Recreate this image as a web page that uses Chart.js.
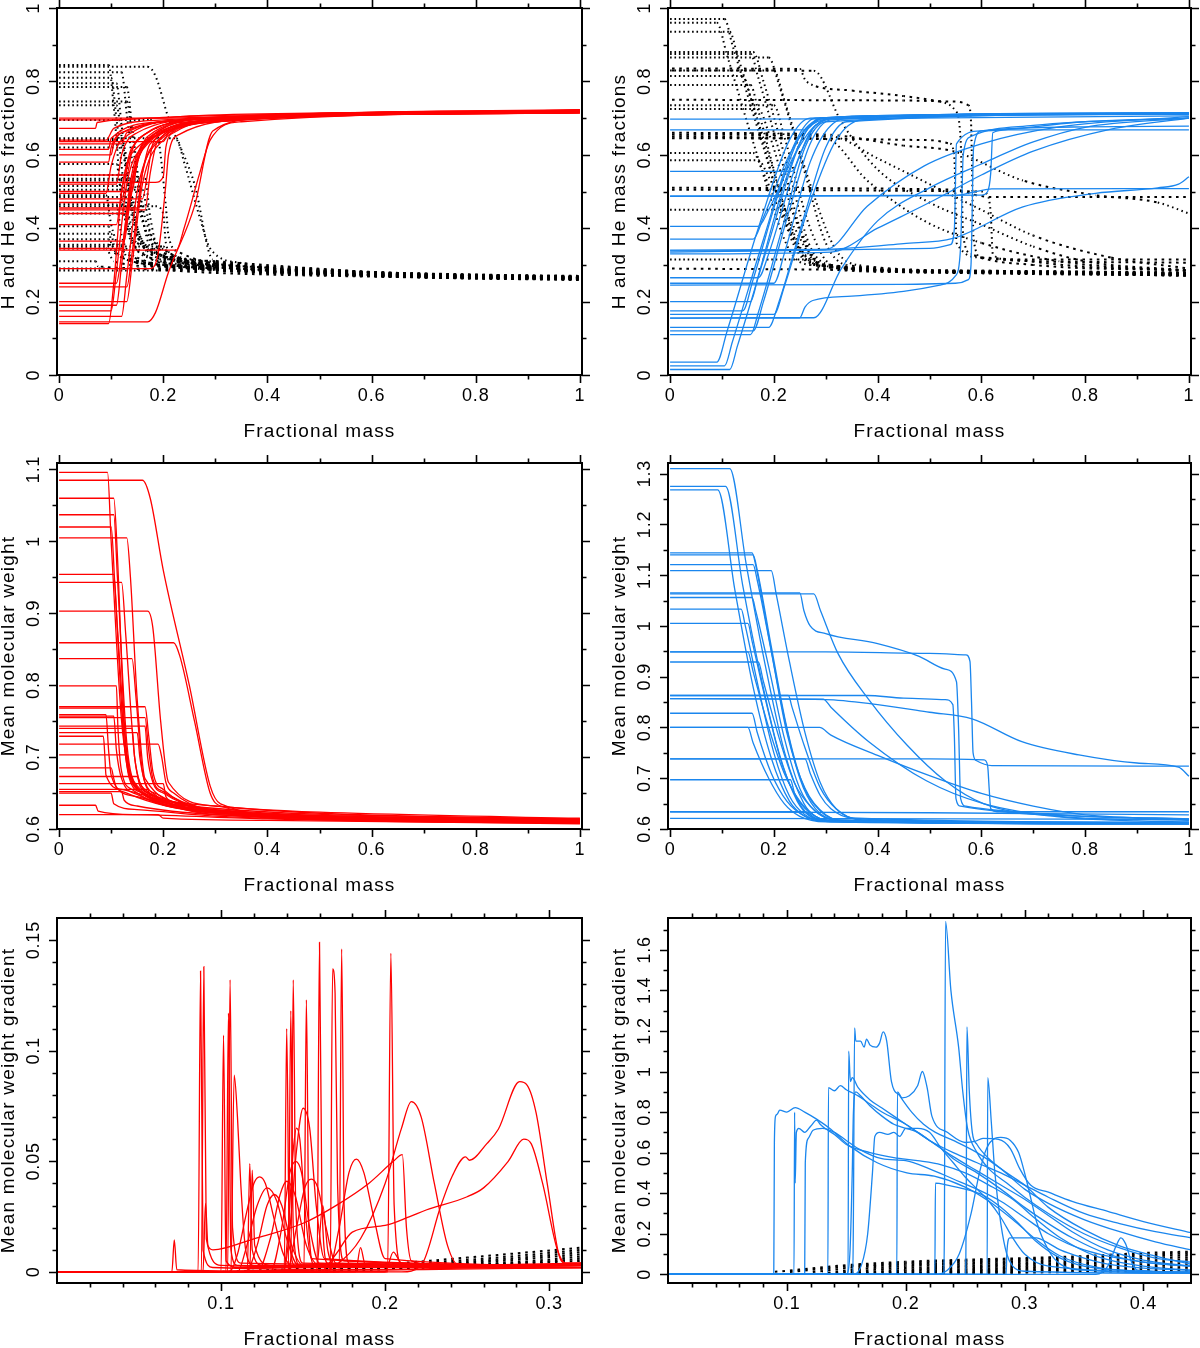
<!DOCTYPE html>
<html lang="en">
<head>
    <meta charset="UTF-8">
    <title>Chemical profiles</title>
    <script src="https://cdn.jsdelivr.net/npm/chart.js"></script>
    <style>
        html, body { margin: 0; padding: 0; background: #fff; }
        body { width: 1200px; height: 1348px; position: relative; overflow: hidden; }
        canvas { position: absolute; }
    </style>
</head>
<body>

    <canvas id="panelA" width="600" height="455" style="left:0;top:0"></canvas>
    <canvas id="panelB" width="600" height="455" style="left:600px;top:0"></canvas>
    <canvas id="panelC" width="600" height="455" style="left:0;top:455px"></canvas>
    <canvas id="panelD" width="600" height="455" style="left:600px;top:455px"></canvas>
    <canvas id="panelE" width="600" height="438" style="left:0;top:910px"></canvas>
    <canvas id="panelF" width="600" height="438" style="left:600px;top:910px"></canvas>

    <script>
        // ---- tick values / labels ----
        const xTicksFull = [0, 0.2, 0.4, 0.6, 0.8, 1];
        const xLabelsFull = ["0", "0.2", "0.4", "0.6", "0.8", "1"];
        const xMinorFull = [0.1, 0.3, 0.5, 0.7, 0.9];

        const xTicksInner = [0.1, 0.2, 0.3];
        const xLabelsInner = ["0.1", "0.2", "0.3"];
        const xMinorInner = [0.02, 0.04, 0.06, 0.08, 0.12, 0.14, 0.16, 0.18, 0.22, 0.24, 0.26, 0.28];

        const xTicksInnerWide = [0.1, 0.2, 0.3, 0.4];
        const xLabelsInnerWide = ["0.1", "0.2", "0.3", "0.4"];
        const xMinorInnerWide = [0.02, 0.04, 0.06, 0.08, 0.12, 0.14, 0.16, 0.18, 0.22, 0.24, 0.26, 0.28, 0.32, 0.34, 0.36, 0.38, 0.42];

        const yTicksFrac = [0, 0.2, 0.4, 0.6, 0.8, 1];
        const yLabelsFrac = ["0", "0.2", "0.4", "0.6", "0.8", "1"];
        const yMinorFrac = [0.1, 0.3, 0.5, 0.7, 0.9];

        const yTicksMuL = [0.6, 0.7, 0.8, 0.9, 1, 1.1];
        const yLabelsMuL = ["0.6", "0.7", "0.8", "0.9", "1", "1.1"];
        const yMinorMuL = [0.65, 0.75, 0.85, 0.95, 1.05];

        const yTicksMuR = [0.6, 0.7, 0.8, 0.9, 1, 1.1, 1.2, 1.3];
        const yLabelsMuR = ["0.6", "0.7", "0.8", "0.9", "1", "1.1", "1.2", "1.3"];
        const yMinorMuR = [0.65, 0.75, 0.85, 0.95, 1.05, 1.15, 1.25];

        const yTicksGrL = [0, 0.05, 0.1, 0.15];
        const yLabelsGrL = ["0", "0.05", "0.1", "0.15"];
        const yMinorGrL = [0.01, 0.02, 0.03, 0.04, 0.06, 0.07, 0.08, 0.09, 0.11, 0.12, 0.13, 0.14];

        const yTicksGrR = [0, 0.2, 0.4, 0.6, 0.8, 1, 1.2, 1.4, 1.6];
        const yLabelsGrR = ["0", "0.2", "0.4", "0.6", "0.8", "1", "1.2", "1.4", "1.6"];
        const yMinorGrR = [0.1, 0.3, 0.5, 0.7, 0.9, 1.1, 1.3, 1.5, 1.7];

        // ---- top left: H (red) and He (dotted) ----
        const hydLeft = [
            [[0,0.700],[0.19,0.700],[0.25,0.706],[0.5,0.714],[1,0.720]],
            [[0,0.695],[0.10,0.695],[0.2,0.702],[0.5,0.712],[1,0.716]],
            [[0,0.672],[0.07,0.672],[0.073,0.688],[0.2,0.70],[0.5,0.713],[1,0.718]],
            [[0,0.640],[0.09,0.640],[0.105,0.672],[0.2,0.695],[0.5,0.712],[1,0.717]],
            [[0,0.636],[0.20,0.636],[0.21,0.66],[0.3,0.695],[0.6,0.712],[1,0.716]],
            [[0,0.630],[0.12,0.630],[0.13,0.66],[0.25,0.695],[0.6,0.714],[1,0.722]],
            [[0,0.615],[0.095,0.615],[0.10,0.645],[0.2,0.69],[0.5,0.712],[1,0.719]],
            [[0,0.600],[0.10,0.600],[0.105,0.63],[0.12,0.66],[0.25,0.695],[1,0.72]],
            [[0,0.580],[0.095,0.580],[0.10,0.62],[0.13,0.665],[0.3,0.70],[1,0.716]],
            [[0,0.545],[0.13,0.545],[0.14,0.61],[0.17,0.66],[0.3,0.70],[1,0.721]],
            [[0,0.525],[0.185,0.525],[0.20,0.54],[0.205,0.62],[0.22,0.66],[0.35,0.70],[1,0.717]],
            [[0,0.520],[0.11,0.520],[0.12,0.60],[0.15,0.66],[0.3,0.70],[1,0.72]],
            [[0,0.500],[0.14,0.500],[0.15,0.58],[0.17,0.65],[0.3,0.70],[1,0.718]],
            [[0,0.495],[0.09,0.495],[0.10,0.57],[0.12,0.64],[0.25,0.695],[1,0.714]],
            [[0,0.480],[0.16,0.480],[0.17,0.55],[0.18,0.63],[0.22,0.67],[0.4,0.705],[1,0.722]],
            [[0,0.470],[0.12,0.470],[0.13,0.56],[0.15,0.64],[0.3,0.70],[1,0.716]],
            [[0,0.455],[0.15,0.455],[0.16,0.55],[0.175,0.63],[0.3,0.695],[1,0.719]],
            [[0,0.450],[0.165,0.450],[0.175,0.55],[0.19,0.64],[0.3,0.695],[1,0.715]],
            [[0,0.440],[0.13,0.440],[0.14,0.53],[0.16,0.63],[0.3,0.70],[1,0.72]],
            [[0,0.410],[0.11,0.410],[0.12,0.50],[0.14,0.62],[0.25,0.69],[1,0.717]],
            [[0,0.365],[0.125,0.365],[0.135,0.46],[0.155,0.60],[0.2,0.66],[0.4,0.705],[1,0.723]],
            [[0,0.345],[0.12,0.345],[0.13,0.44],[0.15,0.58],[0.2,0.66],[0.4,0.705],[1,0.718]],
            [[0,0.340],[0.225,0.340],[0.24,0.40],[0.27,0.55],[0.29,0.64],[0.35,0.69],[1,0.715]],
            [[0,0.290],[0.175,0.290],[0.19,0.33],[0.205,0.52],[0.21,0.60],[0.23,0.655],[0.4,0.70],[1,0.72]],
            [[0,0.250],[0.11,0.250],[0.12,0.33],[0.14,0.55],[0.17,0.64],[0.3,0.70],[1,0.716]],
            [[0,0.240],[0.13,0.240],[0.14,0.33],[0.16,0.55],[0.19,0.64],[0.3,0.695],[1,0.719]],
            [[0,0.200],[0.13,0.200],[0.14,0.30],[0.16,0.52],[0.2,0.64],[0.3,0.69],[1,0.721]],
            [[0,0.190],[0.11,0.190],[0.12,0.30],[0.14,0.53],[0.17,0.63],[0.3,0.695],[1,0.716]],
            [[0,0.175],[0.10,0.175],[0.11,0.28],[0.13,0.52],[0.16,0.62],[0.3,0.695],[1,0.714]],
            [[0,0.160],[0.12,0.160],[0.13,0.27],[0.15,0.50],[0.18,0.62],[0.3,0.69],[1,0.718]],
            [[0,0.145],[0.17,0.145],[0.185,0.17],[0.21,0.28],[0.26,0.46],[0.295,0.665],[0.4,0.70],[1,0.722]],
            [[0,0.140],[0.095,0.140],[0.105,0.25],[0.12,0.50],[0.15,0.62],[0.3,0.69],[1,0.715]]
        ];
        const heLeft = [
            [[0,0.285],[0.19,0.285],[0.3,0.278],[0.6,0.268],[1,0.262]],
            [[0,0.290],[0.10,0.290],[0.2,0.287],[0.35,0.282],[0.6,0.272],[1,0.266]],
            [[0,0.310],[0.07,0.310],[0.075,0.296],[0.2,0.29],[0.35,0.283],[0.6,0.27],[1,0.263]],
            [[0,0.345],[0.09,0.345],[0.105,0.31],[0.2,0.295],[0.35,0.284],[0.6,0.273],[1,0.265]],
            [[0,0.350],[0.20,0.350],[0.21,0.33],[0.3,0.305],[0.45,0.29],[0.7,0.276],[1,0.27]],
            [[0,0.355],[0.12,0.355],[0.13,0.32],[0.25,0.295],[0.45,0.278],[0.7,0.266],[1,0.26]],
            [[0,0.370],[0.095,0.370],[0.10,0.34],[0.2,0.30],[0.4,0.283],[0.7,0.268],[1,0.263]],
            [[0,0.385],[0.10,0.385],[0.105,0.355],[0.12,0.32],[0.25,0.292],[0.5,0.275],[1,0.262]],
            [[0,0.405],[0.095,0.405],[0.10,0.36],[0.13,0.32],[0.3,0.29],[0.6,0.275],[1,0.266]],
            [[0,0.440],[0.13,0.440],[0.14,0.37],[0.17,0.32],[0.3,0.288],[0.6,0.27],[1,0.261]],
            [[0,0.460],[0.185,0.460],[0.20,0.44],[0.205,0.36],[0.22,0.325],[0.35,0.295],[0.6,0.278],[1,0.268]],
            [[0,0.465],[0.11,0.465],[0.12,0.38],[0.15,0.32],[0.3,0.287],[0.6,0.271],[1,0.262]],
            [[0,0.485],[0.14,0.485],[0.15,0.40],[0.17,0.335],[0.3,0.292],[0.6,0.274],[1,0.264]],
            [[0,0.490],[0.09,0.490],[0.10,0.41],[0.12,0.34],[0.25,0.295],[0.6,0.276],[1,0.268]],
            [[0,0.505],[0.16,0.505],[0.17,0.43],[0.18,0.35],[0.22,0.315],[0.4,0.283],[0.7,0.266],[1,0.26]],
            [[0,0.515],[0.12,0.515],[0.13,0.42],[0.15,0.34],[0.3,0.29],[0.6,0.274],[1,0.266]],
            [[0,0.530],[0.15,0.530],[0.16,0.43],[0.175,0.35],[0.3,0.295],[0.6,0.272],[1,0.263]],
            [[0,0.535],[0.165,0.535],[0.175,0.43],[0.19,0.345],[0.3,0.30],[0.6,0.278],[1,0.267]],
            [[0,0.545],[0.13,0.545],[0.14,0.45],[0.16,0.35],[0.3,0.286],[0.6,0.27],[1,0.262]],
            [[0,0.575],[0.11,0.575],[0.12,0.48],[0.14,0.36],[0.25,0.30],[0.6,0.275],[1,0.265]],
            [[0,0.620],[0.125,0.620],[0.135,0.52],[0.155,0.38],[0.2,0.325],[0.4,0.285],[0.7,0.266],[1,0.259]],
            [[0,0.640],[0.12,0.640],[0.13,0.54],[0.15,0.40],[0.2,0.325],[0.4,0.287],[0.7,0.27],[1,0.263]],
            [[0,0.645],[0.225,0.645],[0.24,0.58],[0.27,0.43],[0.29,0.345],[0.35,0.305],[0.6,0.28],[1,0.267]],
            [[0,0.695],[0.175,0.695],[0.19,0.65],[0.205,0.46],[0.21,0.38],[0.23,0.335],[0.4,0.292],[0.7,0.27],[1,0.26]],
            [[0,0.735],[0.11,0.735],[0.12,0.65],[0.14,0.43],[0.17,0.34],[0.3,0.298],[0.6,0.276],[1,0.266]],
            [[0,0.745],[0.13,0.745],[0.14,0.65],[0.16,0.43],[0.19,0.345],[0.3,0.302],[0.6,0.274],[1,0.263]],
            [[0,0.785],[0.13,0.785],[0.14,0.68],[0.16,0.46],[0.2,0.345],[0.3,0.305],[0.6,0.272],[1,0.261]],
            [[0,0.795],[0.11,0.795],[0.12,0.68],[0.14,0.45],[0.17,0.35],[0.3,0.30],[0.6,0.278],[1,0.266]],
            [[0,0.810],[0.10,0.810],[0.11,0.70],[0.13,0.46],[0.16,0.36],[0.3,0.296],[0.6,0.28],[1,0.268]],
            [[0,0.825],[0.12,0.825],[0.13,0.71],[0.15,0.48],[0.18,0.365],[0.3,0.308],[0.6,0.279],[1,0.264]],
            [[0,0.840],[0.17,0.840],[0.185,0.815],[0.21,0.70],[0.26,0.52],[0.295,0.315],[0.4,0.295],[0.7,0.272],[1,0.262]],
            [[0,0.845],[0.095,0.845],[0.105,0.73],[0.12,0.48],[0.15,0.36],[0.3,0.31],[0.6,0.281],[1,0.267]]
        ];

        // ---- top right: H (blue) and He (dotted) ----
        const hydRight = [
            [[0,0.697],[0.3,0.698],[1,0.706]],
            [[0,0.668],[0.26,0.668],[0.29,0.70],[0.5,0.708],[1,0.711]],
            [[0,0.555],[0.235,0.555],[0.25,0.60],[0.28,0.68],[0.32,0.70],[1,0.713]],
            [[0,0.487],[0.60,0.490],[0.612,0.50],[0.618,0.55],[0.622,0.66],[0.65,0.668],[1,0.668]],
            [[0,0.487],[0.55,0.489],[0.59,0.50],[0.62,0.507],[1,0.508]],
            [[0,0.405],[0.17,0.405],[0.19,0.45],[0.24,0.60],[0.28,0.68],[0.35,0.705],[1,0.714]],
            [[0,0.370],[0.16,0.370],[0.18,0.43],[0.23,0.60],[0.27,0.68],[0.33,0.70],[1,0.712]],
            [[0,0.340],[0.30,0.342],[0.38,0.46],[0.49,0.57],[0.6,0.63],[0.75,0.676],[1,0.704]],
            [[0,0.335],[0.50,0.345],[0.54,0.355],[0.548,0.40],[0.552,0.63],[0.6,0.665],[0.8,0.69],[1,0.70]],
            [[0,0.330],[0.31,0.335],[0.4,0.40],[0.5,0.47],[0.6,0.545],[0.7,0.61],[0.85,0.67],[1,0.70]],
            [[0,0.338],[0.3,0.342],[0.45,0.358],[0.545,0.372],[0.68,0.458],[0.82,0.495],[0.94,0.51],[0.98,0.52],[1,0.54]],
            [[0,0.265],[0.17,0.265],[0.19,0.33],[0.24,0.56],[0.28,0.68],[0.33,0.70],[1,0.713]],
            [[0,0.250],[0.20,0.250],[0.22,0.33],[0.27,0.58],[0.31,0.68],[0.36,0.703],[1,0.712]],
            [[0,0.245],[0.45,0.247],[0.55,0.25],[0.575,0.26],[0.58,0.30],[0.585,0.62],[0.6,0.665],[0.8,0.676],[1,0.678]],
            [[0,0.200],[0.155,0.200],[0.17,0.27],[0.22,0.52],[0.26,0.66],[0.3,0.70],[1,0.714]],
            [[0,0.175],[0.14,0.175],[0.16,0.26],[0.21,0.50],[0.25,0.65],[0.3,0.70],[1,0.71]],
            [[0,0.165],[0.20,0.165],[0.22,0.24],[0.27,0.47],[0.32,0.64],[0.37,0.695],[1,0.713]],
            [[0,0.155],[0.25,0.156],[0.26,0.185],[0.275,0.203],[0.35,0.215],[0.45,0.228],[0.52,0.245],[0.55,0.27],[0.56,0.35],[0.565,0.60],[0.58,0.65],[0.7,0.68],[1,0.70]],
            [[0,0.155],[0.277,0.156],[0.33,0.29],[0.4,0.42],[0.5,0.51],[0.6,0.575],[0.7,0.635],[0.8,0.675],[1,0.70]],
            [[0,0.130],[0.19,0.130],[0.21,0.20],[0.26,0.44],[0.3,0.62],[0.34,0.69],[1,0.712]],
            [[0,0.120],[0.16,0.120],[0.18,0.20],[0.23,0.45],[0.27,0.63],[0.31,0.695],[1,0.713]],
            [[0,0.110],[0.155,0.110],[0.17,0.17],[0.22,0.42],[0.26,0.62],[0.3,0.69],[1,0.711]],
            [[0,0.035],[0.09,0.035],[0.11,0.12],[0.17,0.40],[0.23,0.64],[0.27,0.70],[1,0.712]],
            [[0,0.025],[0.105,0.025],[0.12,0.09],[0.18,0.37],[0.24,0.63],[0.28,0.70],[1,0.713]],
            [[0,0.015],[0.115,0.015],[0.13,0.08],[0.19,0.36],[0.25,0.63],[0.29,0.70],[1,0.714]]
        ];
        const heRight = [
            [[0,0.290],[0.3,0.287],[0.6,0.28],[1,0.276]],
            [[0,0.315],[0.26,0.315],[0.29,0.29],[0.5,0.28],[1,0.272]],
            [[0,0.450],[0.23,0.450],[0.25,0.40],[0.28,0.315],[0.33,0.292],[0.6,0.28],[1,0.275]],
            [[0,0.505],[0.60,0.50],[0.612,0.49],[0.618,0.44],[0.622,0.33],[0.65,0.315],[1,0.315]],
            [[0,0.510],[0.55,0.505],[0.59,0.49],[0.62,0.485],[1,0.485]],
            [[0,0.585],[0.17,0.585],[0.19,0.54],[0.24,0.40],[0.28,0.31],[0.35,0.29],[0.6,0.279],[1,0.271]],
            [[0,0.605],[0.16,0.605],[0.18,0.55],[0.23,0.39],[0.27,0.315],[0.33,0.295],[0.6,0.282],[1,0.278]],
            [[0,0.645],[0.30,0.643],[0.38,0.53],[0.49,0.42],[0.6,0.36],[0.75,0.31],[1,0.283]],
            [[0,0.650],[0.50,0.64],[0.54,0.63],[0.548,0.59],[0.552,0.36],[0.6,0.32],[0.8,0.295],[1,0.285]],
            [[0,0.655],[0.31,0.65],[0.4,0.59],[0.5,0.52],[0.6,0.45],[0.7,0.38],[0.85,0.32],[1,0.29]],
            [[0,0.660],[0.3,0.655],[0.45,0.625],[0.545,0.61],[0.68,0.53],[0.82,0.49],[0.94,0.47],[1,0.44]],
            [[0,0.725],[0.17,0.725],[0.19,0.66],[0.24,0.43],[0.28,0.31],[0.33,0.29],[0.6,0.277],[1,0.272]],
            [[0,0.735],[0.20,0.735],[0.22,0.65],[0.27,0.40],[0.31,0.30],[0.36,0.288],[0.6,0.28],[1,0.274]],
            [[0,0.750],[0.45,0.748],[0.55,0.745],[0.575,0.735],[0.58,0.69],[0.585,0.37],[0.6,0.32],[0.8,0.308],[1,0.306]],
            [[0,0.790],[0.155,0.790],[0.17,0.72],[0.22,0.46],[0.26,0.325],[0.3,0.297],[0.6,0.281],[1,0.27]],
            [[0,0.815],[0.14,0.815],[0.16,0.73],[0.21,0.48],[0.25,0.335],[0.3,0.295],[0.6,0.283],[1,0.279]],
            [[0,0.830],[0.20,0.830],[0.22,0.75],[0.27,0.52],[0.32,0.34],[0.37,0.298],[0.6,0.284],[1,0.277]],
            [[0,0.835],[0.25,0.834],[0.26,0.805],[0.275,0.79],[0.35,0.775],[0.45,0.76],[0.52,0.745],[0.55,0.72],[0.56,0.64],[0.565,0.38],[0.58,0.33],[0.7,0.30],[1,0.285]],
            [[0,0.830],[0.277,0.829],[0.33,0.69],[0.4,0.56],[0.5,0.47],[0.6,0.41],[0.7,0.35],[0.8,0.31],[1,0.285]],
            [[0,0.865],[0.19,0.865],[0.21,0.79],[0.26,0.55],[0.3,0.36],[0.34,0.30],[0.6,0.283],[1,0.273]],
            [[0,0.880],[0.16,0.880],[0.18,0.80],[0.23,0.55],[0.27,0.35],[0.31,0.30],[0.6,0.28],[1,0.275]],
            [[0,0.875],[0.155,0.875],[0.17,0.81],[0.22,0.56],[0.26,0.36],[0.3,0.30],[0.6,0.284],[1,0.279]],
            [[0,0.960],[0.09,0.960],[0.11,0.87],[0.17,0.59],[0.23,0.34],[0.27,0.30],[0.6,0.28],[1,0.272]],
            [[0,0.970],[0.105,0.970],[0.12,0.90],[0.18,0.62],[0.24,0.35],[0.28,0.302],[0.6,0.282],[1,0.276]],
            [[0,0.935],[0.115,0.935],[0.13,0.87],[0.19,0.60],[0.25,0.34],[0.29,0.298],[0.6,0.279],[1,0.273]]
        ];

        // ---- middle left: mean molecular weight (red) ----
        const muLeft = [
            [[0,1.096],[0.093,1.096],[0.10,1.0],[0.12,0.75],[0.14,0.67],[0.2,0.64],[0.4,0.618],[1,0.612]],
            [[0,1.085],[0.16,1.085],[0.175,1.06],[0.2,0.96],[0.25,0.80],[0.29,0.66],[0.31,0.635],[0.5,0.615],[1,0.61]],
            [[0,1.060],[0.105,1.060],[0.112,0.98],[0.125,0.75],[0.14,0.67],[0.2,0.64],[0.4,0.617],[1,0.611]],
            [[0,1.037],[0.105,1.037],[0.112,0.95],[0.13,0.72],[0.15,0.66],[0.25,0.632],[1,0.613]],
            [[0,1.020],[0.10,1.020],[0.107,0.94],[0.125,0.72],[0.145,0.66],[0.25,0.63],[1,0.609]],
            [[0,1.005],[0.13,1.005],[0.137,0.95],[0.15,0.78],[0.165,0.67],[0.25,0.635],[1,0.614]],
            [[0,0.954],[0.105,0.954],[0.112,0.88],[0.13,0.70],[0.15,0.655],[0.3,0.625],[1,0.61]],
            [[0,0.943],[0.12,0.943],[0.128,0.87],[0.145,0.70],[0.165,0.655],[0.3,0.627],[1,0.612]],
            [[0,0.903],[0.17,0.903],[0.18,0.88],[0.195,0.75],[0.21,0.665],[0.3,0.632],[1,0.612]],
            [[0,0.859],[0.22,0.859],[0.232,0.84],[0.26,0.75],[0.29,0.65],[0.31,0.632],[0.5,0.616],[1,0.61]],
            [[0,0.837],[0.14,0.837],[0.148,0.78],[0.16,0.68],[0.18,0.65],[0.3,0.625],[1,0.608]],
            [[0,0.799],[0.11,0.799],[0.113,0.74],[0.12,0.68],[0.14,0.655],[0.3,0.625],[1,0.612]],
            [[0,0.770],[0.165,0.770],[0.172,0.73],[0.18,0.68],[0.2,0.655],[0.35,0.622],[1,0.614]],
            [[0,0.768],[0.12,0.768],[0.125,0.72],[0.135,0.67],[0.16,0.65],[0.3,0.624],[1,0.61]],
            [[0,0.759],[0.09,0.759],[0.095,0.71],[0.10,0.675],[0.13,0.65],[0.3,0.622],[1,0.609]],
            [[0,0.757],[0.105,0.757],[0.11,0.71],[0.12,0.67],[0.15,0.648],[0.3,0.624],[1,0.611]],
            [[0,0.755],[0.165,0.755],[0.172,0.71],[0.18,0.67],[0.2,0.652],[0.35,0.623],[1,0.613]],
            [[0,0.743],[0.165,0.743],[0.17,0.70],[0.18,0.665],[0.2,0.65],[0.35,0.62],[1,0.61]],
            [[0,0.740],[0.14,0.740],[0.145,0.70],[0.155,0.665],[0.18,0.648],[0.3,0.623],[1,0.612]],
            [[0,0.734],[0.15,0.734],[0.155,0.70],[0.165,0.665],[0.19,0.648],[0.3,0.622],[1,0.611]],
            [[0,0.729],[0.085,0.729],[0.088,0.70],[0.09,0.675],[0.12,0.655],[0.3,0.62],[1,0.608]],
            [[0,0.718],[0.19,0.718],[0.197,0.70],[0.205,0.665],[0.22,0.65],[0.35,0.622],[1,0.615]],
            [[0,0.703],[0.13,0.703],[0.135,0.68],[0.145,0.66],[0.17,0.648],[0.3,0.622],[1,0.61]],
            [[0,0.685],[0.10,0.685],[0.105,0.67],[0.11,0.658],[0.15,0.645],[0.3,0.62],[1,0.612]],
            [[0,0.673],[0.15,0.673],[0.155,0.66],[0.165,0.652],[0.2,0.642],[0.35,0.62],[1,0.609]],
            [[0,0.663],[0.20,0.663],[0.205,0.645],[0.22,0.638],[0.35,0.62],[1,0.613]],
            [[0,0.655],[0.17,0.655],[0.175,0.645],[0.2,0.637],[0.35,0.62],[1,0.611]],
            [[0,0.652],[0.12,0.652],[0.125,0.64],[0.15,0.632],[0.3,0.62],[1,0.61]],
            [[0,0.650],[0.10,0.650],[0.105,0.635],[0.15,0.627],[0.3,0.618],[1,0.608]],
            [[0,0.633],[0.07,0.633],[0.075,0.625],[0.15,0.62],[0.4,0.614],[1,0.609]],
            [[0,0.620],[0.19,0.620],[0.2,0.615],[0.4,0.612],[1,0.607]]
        ];

        // ---- middle right: mean molecular weight (blue) ----
        const muRight = [
            [[0,1.310],[0.115,1.310],[0.147,1.12],[0.184,0.92],[0.221,0.75],[0.258,0.65],[0.28,0.625],[0.32,0.615],[1,0.612]],
            [[0,1.275],[0.107,1.275],[0.14,1.08],[0.175,0.90],[0.21,0.75],[0.245,0.655],[0.27,0.625],[0.32,0.614],[1,0.611]],
            [[0,1.268],[0.092,1.268],[0.125,1.07],[0.16,0.88],[0.195,0.74],[0.23,0.655],[0.26,0.625],[0.3,0.615],[1,0.613]],
            [[0,1.144],[0.158,1.144],[0.165,1.12],[0.19,0.98],[0.22,0.82],[0.25,0.70],[0.28,0.64],[0.32,0.618],[1,0.612]],
            [[0,1.140],[0.16,1.140],[0.168,1.11],[0.195,0.96],[0.225,0.80],[0.255,0.69],[0.29,0.635],[0.33,0.617],[1,0.611]],
            [[0,1.121],[0.16,1.121],[0.168,1.09],[0.195,0.95],[0.225,0.79],[0.26,0.68],[0.3,0.628],[0.35,0.615],[1,0.61]],
            [[0,1.109],[0.195,1.109],[0.205,1.06],[0.23,0.93],[0.26,0.79],[0.29,0.69],[0.32,0.64],[0.37,0.618],[1,0.612]],
            [[0,1.065],[0.25,1.065],[0.258,1.03],[0.27,1.0],[0.3,0.985],[0.4,0.965],[0.48,0.94],[0.53,0.915],[0.552,0.89],[0.556,0.80],[0.56,0.66],[0.57,0.645],[0.65,0.635],[0.8,0.625],[1,0.618]],
            [[0,1.063],[0.277,1.063],[0.29,1.03],[0.324,0.945],[0.383,0.855],[0.457,0.765],[0.53,0.695],[0.604,0.65],[0.75,0.624],[0.9,0.616],[1,0.614]],
            [[0,1.056],[0.158,1.056],[0.165,1.03],[0.19,0.92],[0.22,0.78],[0.25,0.68],[0.28,0.635],[0.33,0.617],[1,0.611]],
            [[0,1.033],[0.137,1.033],[0.145,1.0],[0.17,0.88],[0.2,0.75],[0.23,0.665],[0.26,0.628],[0.3,0.616],[1,0.612]],
            [[0,1.005],[0.15,1.005],[0.158,0.97],[0.185,0.85],[0.215,0.73],[0.245,0.66],[0.28,0.625],[0.32,0.615],[1,0.61]],
            [[0,0.949],[0.15,0.949],[0.16,0.91],[0.19,0.80],[0.22,0.71],[0.25,0.655],[0.28,0.625],[0.32,0.615],[1,0.611]],
            [[0,0.949],[0.3,0.949],[0.5,0.946],[0.57,0.943],[0.578,0.93],[0.581,0.85],[0.584,0.75],[0.59,0.735],[0.62,0.725],[1,0.724]],
            [[0,0.929],[0.17,0.929],[0.18,0.89],[0.21,0.78],[0.24,0.69],[0.27,0.645],[0.3,0.622],[0.35,0.614],[1,0.611]],
            [[0,0.863],[0.228,0.863],[0.235,0.84],[0.26,0.76],[0.29,0.68],[0.32,0.64],[0.36,0.62],[1,0.612]],
            [[0,0.863],[0.38,0.863],[0.45,0.858],[0.53,0.855],[0.545,0.845],[0.548,0.78],[0.551,0.66],[0.56,0.645],[0.65,0.633],[0.8,0.625],[1,0.62]],
            [[0,0.857],[0.3,0.855],[0.4,0.845],[0.5,0.83],[0.582,0.817],[0.678,0.772],[0.788,0.746],[0.9,0.73],[0.98,0.722],[1,0.704]],
            [[0,0.857],[0.295,0.856],[0.31,0.84],[0.383,0.772],[0.494,0.695],[0.604,0.65],[0.75,0.625],[1,0.617]],
            [[0,0.828],[0.158,0.828],[0.168,0.79],[0.195,0.71],[0.225,0.655],[0.26,0.625],[0.3,0.615],[1,0.61]],
            [[0,0.800],[0.15,0.800],[0.16,0.77],[0.19,0.70],[0.22,0.65],[0.25,0.625],[0.3,0.614],[1,0.61]],
            [[0,0.800],[0.288,0.800],[0.31,0.785],[0.4,0.745],[0.5,0.705],[0.6,0.67],[0.7,0.645],[0.8,0.628],[1,0.62]],
            [[0,0.738],[0.26,0.738],[0.27,0.71],[0.29,0.665],[0.31,0.64],[0.35,0.622],[1,0.613]],
            [[0,0.738],[0.3,0.738],[0.5,0.738],[0.605,0.736],[0.612,0.725],[0.615,0.68],[0.618,0.64],[0.63,0.634],[1,0.634]],
            [[0,0.697],[0.232,0.697],[0.24,0.67],[0.26,0.635],[0.29,0.618],[1,0.611]],
            [[0,0.634],[0.26,0.634],[0.28,0.622],[0.35,0.615],[1,0.61]],
            [[0,0.634],[0.5,0.632],[1,0.628]],
            [[0,0.621],[1,0.619]]
        ];

        // ---- bottom left: mean molecular weight gradient (red, dotted black) ----
        const gradLeft = [
            [[0,0],[0.070,0],[0.0715,0.0145],[0.073,0.001],[0.1,0.0005],[0.2,0.001],[0.32,0.003]],
            [[0,0],[0.086,0],[0.0875,0.136],[0.089,0.01],[0.095,0.002],[0.2,0.001],[0.32,0.002]],
            [[0,0],[0.088,0],[0.0895,0.138],[0.091,0.015],[0.1,0.003],[0.2,0.002],[0.32,0.003]],
            [[0,0],[0.089,0],[0.0905,0.031],[0.092,0.012],[0.095,0.01],[0.12,0.015],[0.15,0.022],[0.17,0.03],[0.19,0.04],[0.205,0.05],[0.2105,0.053],[0.213,0.02],[0.216,0.005],[0.25,0.002],[0.32,0.003]],
            [[0,0],[0.16,0],[0.17,0.003],[0.185,0.015],[0.2,0.04],[0.21,0.065],[0.216,0.077],[0.222,0.07],[0.23,0.04],[0.238,0.012],[0.245,0.003],[0.32,0.004]],
            [[0,0],[0.1,0],[0.1015,0.107],[0.103,0.005],[0.11,0.002],[0.32,0.003]],
            [[0,0],[0.103,0],[0.1045,0.117],[0.106,0.01],[0.11,0.003],[0.32,0.002]],
            [[0,0],[0.104,0],[0.1055,0.132],[0.107,0.02],[0.112,0.004],[0.32,0.003]],
            [[0,0],[0.106,0],[0.108,0.089],[0.11,0.07],[0.112,0.04],[0.115,0.01],[0.12,0.003],[0.32,0.003]],
            [[0,0],[0.116,0],[0.1175,0.049],[0.119,0.01],[0.125,0.003],[0.32,0.002]],
            [[0,0],[0.1175,0],[0.119,0.046],[0.1205,0.012],[0.13,0.003],[0.32,0.003]],
            [[0,0],[0.105,0],[0.11,0.008],[0.115,0.025],[0.12,0.04],[0.1235,0.043],[0.127,0.04],[0.132,0.025],[0.138,0.008],[0.145,0.002],[0.32,0.003]],
            [[0,0],[0.11,0],[0.115,0.01],[0.122,0.03],[0.128,0.038],[0.134,0.032],[0.14,0.015],[0.147,0.003],[0.32,0.003]],
            [[0,0],[0.115,0],[0.122,0.012],[0.128,0.03],[0.1325,0.035],[0.137,0.03],[0.143,0.012],[0.15,0.003],[0.32,0.002]],
            [[0,0],[0.122,0],[0.13,0.015],[0.136,0.035],[0.14,0.041],[0.145,0.035],[0.152,0.012],[0.16,0.003],[0.32,0.003]],
            [[0,0],[0.1385,0],[0.14,0.110],[0.1415,0.02],[0.145,0.003],[0.32,0.003]],
            [[0,0],[0.141,0],[0.1425,0.118],[0.144,0.02],[0.148,0.003],[0.32,0.003]],
            [[0,0],[0.1425,0],[0.144,0.132],[0.1455,0.03],[0.15,0.004],[0.32,0.003]],
            [[0,0],[0.138,0],[0.141,0.02],[0.144,0.055],[0.146,0.065],[0.148,0.06],[0.151,0.03],[0.155,0.006],[0.32,0.003]],
            [[0,0],[0.13,0],[0.137,0.02],[0.142,0.045],[0.1455,0.05],[0.149,0.045],[0.154,0.02],[0.16,0.004],[0.32,0.003]],
            [[0,0],[0.138,0],[0.142,0.02],[0.146,0.055],[0.15,0.074],[0.154,0.065],[0.158,0.03],[0.163,0.006],[0.32,0.003]],
            [[0,0],[0.1505,0],[0.152,0.123],[0.1535,0.02],[0.157,0.003],[0.32,0.003]],
            [[0,0],[0.14,0],[0.146,0.02],[0.151,0.038],[0.155,0.042],[0.159,0.038],[0.164,0.02],[0.17,0.004],[0.32,0.003]],
            [[0,0],[0.1585,0],[0.16,0.149],[0.1615,0.03],[0.165,0.004],[0.32,0.003]],
            [[0,0],[0.158,0],[0.162,0.03],[0.165,0.01],[0.17,0.003],[0.32,0.003]],
            [[0,0],[0.1665,0],[0.168,0.137],[0.1695,0.126],[0.171,0.04],[0.175,0.005],[0.32,0.003]],
            [[0,0],[0.172,0],[0.1735,0.146],[0.175,0.03],[0.178,0.004],[0.32,0.003]],
            [[0,0],[0.165,0],[0.172,0.02],[0.178,0.045],[0.1825,0.051],[0.187,0.045],[0.193,0.025],[0.2,0.006],[0.32,0.003]],
            [[0,0],[0.182,0],[0.185,0.011],[0.188,0.003],[0.32,0.003]],
            [[0,0],[0.2015,0],[0.2035,0.144],[0.2055,0.03],[0.21,0.004],[0.32,0.003]],
            [[0,0],[0.2,0],[0.205,0.009],[0.21,0.004],[0.32,0.003]],
            [[0,0],[0.21,0],[0.222,0.003],[0.234,0.03],[0.241,0.0435],[0.249,0.052],[0.2515,0.0505],[0.262,0.058],[0.269,0.0645],[0.282,0.086],[0.2865,0.0845],[0.292,0.072],[0.299,0.039],[0.306,0.0075],[0.31,0.004],[0.32,0.004]],
            [[0,0],[0.16,0],[0.17,0.008],[0.18,0.018],[0.2,0.021],[0.215,0.025],[0.225,0.028],[0.25,0.034],[0.26,0.038],[0.275,0.05],[0.2845,0.06],[0.289,0.058],[0.296,0.04],[0.305,0.01],[0.31,0.004],[0.32,0.004]]
        ];
        const gradLeftHe = [
            [[0.10,0],[0.15,0.0015],[0.2,0.0035],[0.25,0.0065],[0.32,0.011]],
            [[0.11,0],[0.16,0.0015],[0.21,0.0035],[0.26,0.006],[0.32,0.010]],
            [[0.12,0],[0.17,0.0015],[0.22,0.0033],[0.27,0.0057],[0.32,0.009]],
            [[0.13,0],[0.18,0.0015],[0.23,0.0032],[0.28,0.0055],[0.32,0.008]],
            [[0.14,0],[0.19,0.0015],[0.24,0.003],[0.29,0.005],[0.32,0.007]],
            [[0.15,0],[0.20,0.0015],[0.25,0.003],[0.30,0.0048],[0.32,0.006]],
            [[0.16,0],[0.21,0.0015],[0.26,0.003],[0.32,0.005]]
        ];

        // ---- bottom right: mean molecular weight gradient (blue, dotted black) ----
        const gradRight = [
            [[0,0],[0.089,0],[0.0895,0.65],[0.0905,0.78],[0.092,0.79],[0.094,0.81],[0.1,0.80],[0.107,0.822],[0.115,0.80],[0.125,0.765],[0.137,0.715],[0.153,0.632],[0.176,0.55],[0.201,0.50],[0.224,0.484],[0.25,0.43],[0.27,0.36],[0.29,0.27],[0.31,0.17],[0.33,0.09],[0.36,0.035],[0.4,0.015],[0.44,0.01]],
            [[0,0],[0.106,0],[0.1065,0.80],[0.107,0.45],[0.108,0.70],[0.11,0.72],[0.115,0.70],[0.12,0.73],[0.125,0.76],[0.128,0.74],[0.132,0.72],[0.14,0.69],[0.15,0.64],[0.17,0.60],[0.19,0.575],[0.21,0.56],[0.23,0.54],[0.25,0.50],[0.27,0.44],[0.29,0.37],[0.31,0.27],[0.33,0.18],[0.36,0.09],[0.4,0.04],[0.44,0.02]],
            [[0,0],[0.115,0],[0.1155,0.55],[0.118,0.67],[0.122,0.71],[0.13,0.72],[0.14,0.70],[0.15,0.66],[0.16,0.62],[0.18,0.57],[0.2,0.56],[0.22,0.52],[0.24,0.47],[0.26,0.42],[0.28,0.36],[0.3,0.28],[0.32,0.20],[0.35,0.12],[0.4,0.06],[0.44,0.04]],
            [[0,0],[0.1345,0],[0.135,0.92],[0.14,0.905],[0.145,0.93],[0.15,0.91],[0.155,0.895],[0.16,0.88],[0.17,0.84],[0.18,0.80],[0.2,0.74],[0.22,0.66],[0.24,0.58],[0.26,0.51],[0.28,0.44],[0.3,0.37],[0.32,0.29],[0.34,0.21],[0.37,0.12],[0.4,0.07],[0.44,0.04]],
            [[0,0],[0.1515,0],[0.152,1.10],[0.1535,0.95],[0.155,0.97],[0.16,0.92],[0.17,0.86],[0.18,0.82],[0.2,0.74],[0.22,0.66],[0.24,0.60],[0.26,0.55],[0.28,0.50],[0.3,0.44],[0.32,0.38],[0.35,0.30],[0.38,0.25],[0.41,0.21],[0.44,0.18]],
            [[0,0],[0.1555,0],[0.156,0.3],[0.157,1.215],[0.158,1.15],[0.162,1.15],[0.165,1.12],[0.167,1.16],[0.17,1.13],[0.175,1.12],[0.178,1.14],[0.181,1.195],[0.184,1.15],[0.188,0.95],[0.195,0.88],[0.205,0.80],[0.215,0.74],[0.225,0.70],[0.24,0.66],[0.26,0.60],[0.28,0.52],[0.3,0.42],[0.32,0.35],[0.35,0.27],[0.38,0.21],[0.41,0.16],[0.44,0.12]],
            [[0,0],[0.1925,0],[0.193,0.90],[0.197,0.87],[0.203,0.88],[0.21,0.93],[0.214,1.0],[0.218,0.92],[0.222,0.78],[0.235,0.70],[0.25,0.65],[0.258,0.655],[0.265,0.67],[0.278,0.665],[0.288,0.62],[0.296,0.52],[0.305,0.44],[0.32,0.405],[0.34,0.36],[0.37,0.31],[0.4,0.26],[0.44,0.205]],
            [[0,0],[0.232,0],[0.2325,0.2],[0.2335,1.74],[0.238,1.4],[0.2445,1.12],[0.248,0.9],[0.252,0.72],[0.26,0.60],[0.27,0.52],[0.285,0.45],[0.3,0.38],[0.32,0.30],[0.35,0.20],[0.38,0.13],[0.41,0.08],[0.44,0.06]],
            [[0,0],[0.2505,0],[0.251,0.5],[0.2515,1.22],[0.2535,0.9],[0.256,0.70],[0.26,0.64],[0.27,0.57],[0.285,0.50],[0.3,0.44],[0.32,0.33],[0.35,0.22],[0.38,0.14],[0.41,0.09],[0.44,0.05]],
            [[0,0],[0.2685,0],[0.269,0.97],[0.272,0.75],[0.275,0.5],[0.28,0.25],[0.285,0.1],[0.29,0.04],[0.3,0.015],[0.44,0.005]],
            [[0,0],[0.2245,0],[0.225,0.45],[0.235,0.44],[0.25,0.42],[0.265,0.39],[0.28,0.33],[0.295,0.25],[0.31,0.16],[0.33,0.08],[0.36,0.03],[0.44,0.01]],
            [[0,0],[0.155,0],[0.163,0.05],[0.168,0.2],[0.172,0.5],[0.174,0.68],[0.178,0.70],[0.185,0.69],[0.19,0.70],[0.195,0.68],[0.2,0.72],[0.21,0.72],[0.22,0.70],[0.23,0.62],[0.24,0.55],[0.25,0.48],[0.26,0.42],[0.27,0.36],[0.28,0.28],[0.29,0.18],[0.3,0.10],[0.32,0.04],[0.44,0.01]],
            [[0,0],[0.15,0],[0.153,0.1],[0.155,0.5],[0.156,0.8],[0.158,0.9],[0.162,0.88],[0.17,0.83],[0.18,0.78],[0.19,0.74],[0.2,0.72],[0.21,0.70],[0.22,0.66],[0.23,0.62],[0.24,0.57],[0.26,0.50],[0.28,0.42],[0.3,0.33],[0.32,0.25],[0.34,0.18],[0.37,0.10],[0.4,0.06],[0.44,0.04]],
            [[0,0],[0.225,0],[0.235,0.02],[0.245,0.1],[0.255,0.3],[0.262,0.5],[0.268,0.62],[0.275,0.67],[0.28,0.675],[0.288,0.66],[0.295,0.60],[0.3,0.50],[0.305,0.38],[0.31,0.26],[0.32,0.12],[0.33,0.05],[0.35,0.02],[0.44,0.005]],
            [[0,0],[0.2845,0],[0.285,0.1],[0.2875,0.18],[0.3,0.18],[0.31,0.18],[0.318,0.16],[0.33,0.12],[0.35,0.08],[0.37,0.05],[0.4,0.03],[0.44,0.02]],
            [[0,0],[0.36,0],[0.37,0.04],[0.377,0.14],[0.381,0.18],[0.385,0.15],[0.39,0.06],[0.395,0.02],[0.44,0.01]]
        ];
        const gradRightHe = [
            [[0.09,0.012],[0.15,0.045],[0.2,0.062],[0.25,0.072],[0.3,0.08],[0.35,0.09],[0.4,0.105],[0.44,0.112]],
            [[0.10,0.01],[0.15,0.038],[0.2,0.055],[0.25,0.066],[0.3,0.074],[0.35,0.083],[0.4,0.097],[0.44,0.104]],
            [[0.12,0.01],[0.16,0.035],[0.2,0.048],[0.25,0.058],[0.3,0.066],[0.35,0.075],[0.4,0.088],[0.44,0.095]],
            [[0.13,0.005],[0.17,0.03],[0.2,0.04],[0.25,0.05],[0.3,0.058],[0.35,0.067],[0.4,0.078],[0.44,0.085]],
            [[0.14,0.005],[0.18,0.025],[0.22,0.035],[0.26,0.043],[0.3,0.05],[0.35,0.058],[0.4,0.068],[0.44,0.075]],
            [[0.15,0.005],[0.2,0.022],[0.25,0.033],[0.3,0.042],[0.35,0.05],[0.4,0.058],[0.44,0.065]],
            [[0.16,0.003],[0.2,0.015],[0.25,0.025],[0.3,0.034],[0.35,0.042],[0.4,0.048],[0.44,0.055]],
            [[0.18,0.003],[0.22,0.012],[0.26,0.02],[0.3,0.027],[0.35,0.034],[0.4,0.04],[0.44,0.045]],
            [[0.20,0.002],[0.25,0.012],[0.3,0.02],[0.35,0.026],[0.4,0.031],[0.44,0.035]],
            [[0.22,0.002],[0.27,0.01],[0.32,0.016],[0.37,0.02],[0.44,0.025]],
            [[0.25,0.002],[0.3,0.008],[0.35,0.012],[0.4,0.015],[0.44,0.018]]
        ];

        const RED = "#ff0000";
        const BLUE = "#1a86ee";

        // frame, ticks and labels drawn from the chart's own scales
        const framePlugin = {
            id: "frame",
            afterDraw(chart, args, o) {
                const { ctx, chartArea: a } = chart;
                const xs = chart.scales.x, ys = chart.scales.y;
                ctx.save();
                ctx.strokeStyle = "#000";
                ctx.lineWidth = 1.6;
                ctx.beginPath();
                const xt = (vals, len) => vals.forEach(v => {
                    const px = Math.round(xs.getPixelForValue(v)) + 0.5;
                    ctx.moveTo(px, a.bottom); ctx.lineTo(px, a.bottom + len);
                    ctx.moveTo(px, a.top); ctx.lineTo(px, a.top - len);
                });
                const yt = (vals, len) => vals.forEach(v => {
                    const py = Math.round(ys.getPixelForValue(v)) + 0.5;
                    ctx.moveTo(a.left, py); ctx.lineTo(a.left - len, py);
                    ctx.moveTo(a.right, py); ctx.lineTo(a.right + len, py);
                });
                xt(o.xTicks, 8); xt(o.xMinor, 4.5);
                yt(o.yTicks, 8); yt(o.yMinor, 4.5);
                ctx.stroke();
                ctx.lineWidth = 2;
                ctx.strokeRect(a.left, a.top, a.right - a.left, a.bottom - a.top);

                ctx.fillStyle = "#000";
                ctx.textAlign = "center";
                ctx.textBaseline = "middle";
                ctx.font = '18px "Liberation Sans", Arial, sans-serif';
                ctx.letterSpacing = "0.8px";
                o.xTicks.forEach((v, i) => ctx.fillText(o.xLabels[i], xs.getPixelForValue(v), a.bottom + 21));
                o.yTicks.forEach((v, i) => {
                    ctx.save();
                    ctx.translate(a.left - 23, ys.getPixelForValue(v));
                    ctx.rotate(-Math.PI / 2);
                    ctx.fillText(o.yLabels[i], 0, 0);
                    ctx.restore();
                });
                ctx.font = '19px "Liberation Sans", Arial, sans-serif';
                ctx.letterSpacing = "1.2px";
                ctx.fillText("Fractional mass", (a.left + a.right) / 2, a.bottom + 57);
                ctx.save();
                ctx.translate(a.left - 48, (a.top + a.bottom) / 2);
                ctx.rotate(-Math.PI / 2);
                ctx.fillText(o.yTitle, 0, 0);
                ctx.restore();
                ctx.restore();
            }
        };

        // dotted He curves: fine dots on the flat starts and the drops, comb-like
        // bars on the near-horizontal tails (dash phase tied to x so curves line up)
        const flatDots = [1.6, 2.8];
        const slopeDots = [1.5, 3.5];
        function lineSets(curves, color, dotted, period) {
            return curves.map(pts => {
                const ds = {
                    data: pts,
                    borderColor: color,
                    borderWidth: dotted ? 2 : 1.3,
                    borderCapStyle: "butt",
                    pointRadius: 0,
                    cubicInterpolationMode: "monotone",
                    fill: false
                };
                if (dotted) {
                    const start = c => c.p0DataIndex === 0 && c.p0.y === c.p1.y;
                    const tail = c => !start(c) && Math.abs(c.p1.y - c.p0.y) < 0.3 * Math.abs(c.p1.x - c.p0.x);
                    ds.segment = {
                        borderDash: c => tail(c) ? [2.6, period - 2.6] : (start(c) ? flatDots : slopeDots),
                        borderDashOffset: c => tail(c) ? (c.p0.x % period) : 0
                    };
                }
                return ds;
            });
        }

        function makePanel(id, cfg) {
            new Chart(document.getElementById(id), {
                type: "line",
                data: { datasets: lineSets(cfg.colored, cfg.color, false).concat(lineSets(cfg.dotted, "#000", true, cfg.period || 7.2)) },
                options: {
                    responsive: false,
                    animation: false,
                    events: [],
                    layout: { padding: cfg.pad },
                    scales: {
                        x: { type: "linear", min: cfg.xr[0], max: cfg.xr[1], display: false },
                        y: { type: "linear", min: cfg.yr[0], max: cfg.yr[1], display: false }
                    },
                    plugins: {
                        legend: { display: false },
                        tooltip: { enabled: false },
                        frame: cfg.frame
                    }
                },
                plugins: [framePlugin]
            });
        }

        const padL = (b) => ({ left: 57, right: 18, top: 8, bottom: b });
        const padR = (b) => ({ left: 68, right: 9, top: 8, bottom: b });

        makePanel("panelA", {
            colored: hydLeft, dotted: heLeft, color: RED, pad: padL(80),
            xr: [-0.004, 1.004], yr: [0, 1],
            frame: { xTicks: xTicksFull, xLabels: xLabelsFull, xMinor: xMinorFull,
                     yTicks: yTicksFrac, yLabels: yLabelsFrac, yMinor: yMinorFrac, yTitle: "H and He mass fractions" }
        });
        makePanel("panelB", {
            colored: hydRight, dotted: heRight, color: BLUE, pad: padR(80),
            xr: [-0.004, 1.004], yr: [0, 1],
            frame: { xTicks: xTicksFull, xLabels: xLabelsFull, xMinor: xMinorFull,
                     yTicks: yTicksFrac, yLabels: yLabelsFrac, yMinor: yMinorFrac, yTitle: "H and He mass fractions" }
        });
        makePanel("panelC", {
            colored: muLeft, dotted: [], color: RED, pad: padL(81),
            xr: [-0.004, 1.004], yr: [0.6, 1.109],
            frame: { xTicks: xTicksFull, xLabels: xLabelsFull, xMinor: xMinorFull,
                     yTicks: yTicksMuL, yLabels: yLabelsMuL, yMinor: yMinorMuL, yTitle: "Mean molecular weight" }
        });
        makePanel("panelD", {
            colored: muRight, dotted: [], color: BLUE, pad: padR(81),
            xr: [-0.004, 1.004], yr: [0.6, 1.321],
            frame: { xTicks: xTicksFull, xLabels: xLabelsFull, xMinor: xMinorFull,
                     yTicks: yTicksMuR, yLabels: yLabelsMuR, yMinor: yMinorMuR, yTitle: "Mean molecular weight" }
        });
        makePanel("panelE", {
            colored: gradLeft, dotted: gradLeftHe, color: RED, pad: padL(65), period: 7.4,
            xr: [0, 0.32], yr: [-0.005, 0.16],
            frame: { xTicks: xTicksInner, xLabels: xLabelsInner, xMinor: xMinorInner,
                     yTicks: yTicksGrL, yLabels: yLabelsGrL, yMinor: yMinorGrL, yTitle: "Mean molecular weight gradient" }
        });
        makePanel("panelF", {
            colored: gradRight, dotted: gradRightHe, color: BLUE, pad: padR(65), period: 7.6,
            xr: [0, 0.44], yr: [-0.043, 1.757],
            frame: { xTicks: xTicksInnerWide, xLabels: xLabelsInnerWide, xMinor: xMinorInnerWide,
                     yTicks: yTicksGrR, yLabels: yLabelsGrR, yMinor: yMinorGrR, yTitle: "Mean molecular weight gradient" }
        });
    </script>

</body>
</html>
